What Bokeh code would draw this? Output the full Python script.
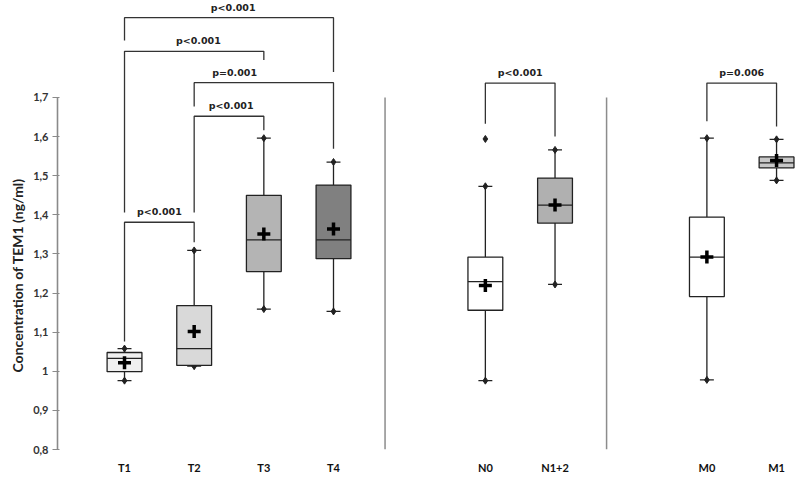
import math
from bokeh.plotting import figure
from bokeh.models import Range1d, FixedTicker, Title, ColumnDataSource
from bokeh.core.properties import value
from bokeh.embed import file_html
from bokeh.resources import INLINE

# ---------------- data ----------------
categories = ["T1", "T2", "T3", "T4", "N0", "N1+2", "M0", "M1"]
group_index = [0, 0, 0, 0, 1, 1, 2, 2]
q1 = [0.999, 1.015, 1.255, 1.288, 1.156, 1.379, 1.191, 1.520]
median = [1.033, 1.058, 1.336, 1.336, 1.229, 1.425, 1.292, 1.533]
q3 = [1.048, 1.168, 1.450, 1.476, 1.292, 1.494, 1.394, 1.548]
whisker_low = [0.976, 1.013, 1.159, 1.153, 0.976, 1.222, 0.978, 1.488]
whisker_high = [1.058, 1.309, 1.596, 1.535, 1.473, 1.566, 1.596, 1.593]
mean = [1.022, 1.102, 1.351, 1.364, 1.219, 1.425, 1.292, 1.539]
outlier_cat = ["N0"]
outlier_val = [1.594]

y_ticks = [0.8, 0.9, 1.0, 1.1, 1.2, 1.3, 1.4, 1.5, 1.6, 1.7]
y_tick_labels = ["0,8", "0,9", "1", "1,1", "1,2", "1,3", "1,4", "1,5", "1,6", "1,7"]
y_title = "Concentration of TEM1 (ng/ml)"

bracket_from = ["T1", "T1", "T2", "T2", "T1", "N0", "M0"]
bracket_to = ["T4", "T3", "T4", "T3", "T2", "N1+2", "M1"]
bracket_y = [1.904, 1.818, 1.738, 1.652, 1.381, 1.737, 1.737]
bracket_left_end = [1.846, 1.406, 1.677, 1.406, 1.076, 1.633, 1.639]
bracket_right_end = [1.765, 1.796, 1.569, 1.616, 1.330, 1.600, 1.626]
bracket_text = ["p<0.001", "p<0.001", "p=0.001", "p<0.001", "p<0.001", "p<0.001", "p=0.006"]

# ---------------- styles / layout ----------------
box_colors = ["#f0f0f0", "#d9d9d9", "#b4b4b4", "#808080", "#ffffff", "#b0b0b0", "#ffffff", "#c8c8c8"]
label_frac = [0.52, 0.53, 0.29, 0.53, 0.5, 0.5, 0.5]
GROUP_GAP = 1.18
BOX_W = 0.5
CAP_W = 0.2
SEP_OFFSET = 0.74
LINE = "#222222"
X_START, X_END = -0.962, 9.632
Y_START, Y_END = 0.8, 1.948
FRAME_W, FRAME_H = 738, 449
TITLE_LEN_PX = 198  # approx rendered length of the y title at 14px

xpos = [i + GROUP_GAP * g for i, g in enumerate(group_index)]
pos_of = dict(zip(categories, xpos))

p = figure(frame_width=FRAME_W, frame_height=FRAME_H, output_backend="svg", toolbar_location=None,
           x_range=Range1d(X_START, X_END), y_range=Range1d(Y_START, Y_END),
           min_border_left=57, min_border_right=0, min_border_top=0, min_border_bottom=31)
p.outline_line_color = None
p.xgrid.visible = False
p.ygrid.visible = False
p.background_fill_color = "white"

# y axis
ya = p.yaxis[0]
ya.ticker = FixedTicker(ticks=y_ticks)
ya.major_label_overrides = {t: l for t, l in zip(y_ticks, y_tick_labels)}
ya.bounds = (y_ticks[0], y_ticks[-1])
ya.axis_line_color = "#8a8a8a"
ya.axis_line_width = 1.6
ya.major_tick_line_color = "#8a8a8a"
ya.major_tick_line_width = 1.2
ya.major_tick_out = 5
ya.major_tick_in = 2
ya.minor_tick_line_color = None
ya.major_label_standoff = 4
ya.major_label_text_font = "Lato"
ya.major_label_text_font_style = "bold"
ya.major_label_text_font_size = "11px"
ya.major_label_text_color = "#333333"

# y axis title as a left-side Title, centred on the axis span
axis_mid = (y_ticks[0] + y_ticks[-1]) / 2
mid_from_bottom = (axis_mid - Y_START) / (Y_END - Y_START) * FRAME_H
p.add_layout(Title(text=y_title, align="left", offset=mid_from_bottom - TITLE_LEN_PX / 2,
                   standoff=10, text_font="Lato", text_font_style="bold",
                   text_font_size="14px", text_color="#222222"), "left")

# x axis
xa = p.xaxis[0]
xa.ticker = FixedTicker(ticks=xpos)
xa.major_label_overrides = {x: c for x, c in zip(xpos, categories)}
xa.axis_line_color = None
xa.major_tick_line_color = None
xa.minor_tick_line_color = None
xa.major_tick_out = 0
xa.major_tick_in = 0
xa.major_label_standoff = 11
xa.major_label_text_font = "Lato"
xa.major_label_text_font_style = "bold"
xa.major_label_text_font_size = "11px"
xa.major_label_text_color = "#111111"

# separators between groups
n_groups = max(group_index) + 1
sep_x = []
for g in range(n_groups - 1):
    last = max(x for x, gi in zip(xpos, group_index) if gi == g)
    sep_x.append(last + SEP_OFFSET)
p.segment(x0=sep_x, x1=sep_x, y0=[y_ticks[0]] * len(sep_x), y1=[y_ticks[-1]] * len(sep_x),
          line_color="#8c8c8c", line_width=1.5)

src = ColumnDataSource(dict(
    x=xpos, q1=q1, q3=q3, med=median, lo=whisker_low, hi=whisker_high, mean=mean,
    color=box_colors,
    xl=[x - BOX_W / 2 for x in xpos], xr=[x + BOX_W / 2 for x in xpos],
    cl=[x - CAP_W / 2 for x in xpos], cr=[x + CAP_W / 2 for x in xpos],
))

# whiskers
p.segment(x0="x", x1="x", y0="q3", y1="hi", source=src, line_color=LINE, line_width=1.3)
p.segment(x0="x", x1="x", y0="q1", y1="lo", source=src, line_color=LINE, line_width=1.3)
p.segment(x0="cl", x1="cr", y0="hi", y1="hi", source=src, line_color=LINE, line_width=1.3)
p.segment(x0="cl", x1="cr", y0="lo", y1="lo", source=src, line_color=LINE, line_width=1.3)
p.scatter(x="x", y="hi", source=src, marker="diamond", size=7, color=LINE)
p.scatter(x="x", y="lo", source=src, marker="diamond", size=7, color=LINE)

# boxes
p.vbar(x="x", width=BOX_W, bottom="q1", top="q3", source=src,
       fill_color="color", line_color=LINE, line_width=1.3)
p.segment(x0="xl", x1="xr", y0="med", y1="med", source=src, line_color=LINE, line_width=1.3)

# means
p.scatter(x="x", y="mean", source=src, marker="cross", size=13, line_width=3.5, color="black")

# outliers
p.scatter(x=[pos_of[c] for c in outlier_cat], y=outlier_val, marker="diamond", size=7, color=LINE)

# significance brackets
xs, ys, tx = [], [], []
for a, b, y, le, re_, f in zip(bracket_from, bracket_to, bracket_y, bracket_left_end,
                               bracket_right_end, label_frac):
    xa_, xb_ = pos_of[a], pos_of[b]
    xs.append([xa_, xa_, xb_, xb_])
    ys.append([le, y, y, re_])
    tx.append(xa_ + f * (xb_ - xa_))
p.multi_line(xs=xs, ys=ys, line_color="#333333", line_width=1.3)
p.text(x=tx, y=bracket_y, text=bracket_text, y_offset=-5,
       text_align="center", text_baseline="bottom",
       text_font=value("DejaVu Sans"), text_font_style="bold",
       text_font_size="9.5px", text_color="#222222")

open("out.html", "w").write(file_html(p, INLINE))
